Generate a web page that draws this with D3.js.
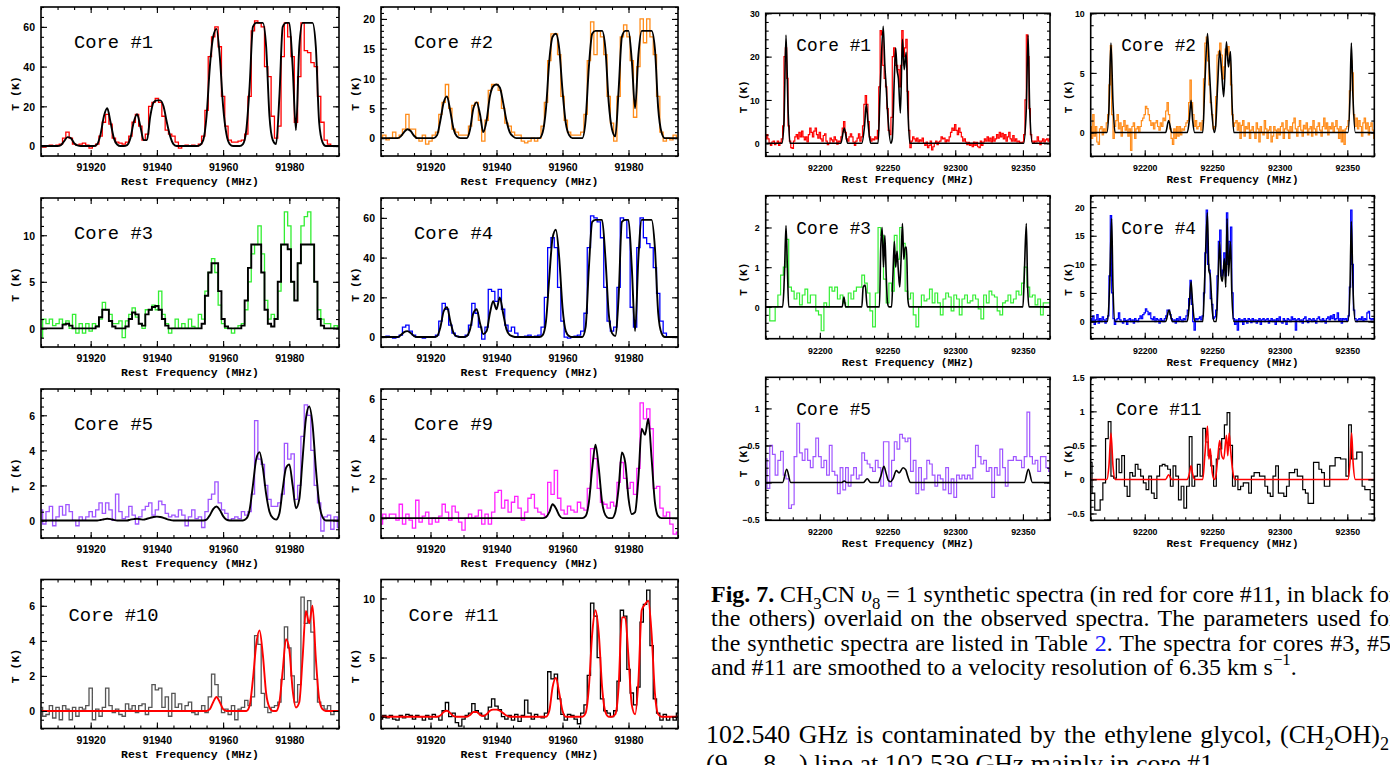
<!DOCTYPE html>
<html><head><meta charset="utf-8">
<script src="https://cdn.jsdelivr.net/npm/d3@7"></script>
<style>body{margin:0;background:#fff}svg{display:block}text{white-space:pre}</style>
</head><body>
<svg id="fig" width="1390" height="765"></svg>
<script>
// ---------------- DATA ----------------
// Left block: 91905..91995 MHz, 1 MHz channels
const freqL = d3.range(91905, 91996, 1);
// Right block: 92160..92370 MHz (1 MHz and 2 MHz channels)
const freqR1 = d3.range(92160, 92371, 1);
const freqR2 = d3.range(92160, 92371, 2);

const leftXTicks = [91920, 91940, 91960, 91980];
const rightXTicks = [92200, 92250, 92300, 92350];
const coreLabels = ["Core #1","Core #2","Core #3","Core #4","Core #5","Core #9","Core #10","Core #11"];
const coreLabelsR = ["Core #1","Core #2","Core #3","Core #4","Core #5","Core #11"];

const obs1L = [0,-0.5,0,0.5,0,0.5,1,4,7,4, 1,0.5,1,1.5,0.5,-1,0,1,5,12, 16,11,4,2,1.5,1,2,5,12,16, 10,3,6,20,22,24,22,15,8,6, 5,2,-1,0,0.5,0,0.5,0,1,5, 18,45,55,60,50,25,10,3,2,2, 2.5,3,6,25,58,63,62,60,40,35, 15,4,10,45,62,55,45,12,35,62, 48,47,42,40,25,12,3,1,0,0, 0];
const mod1L = [0,0,0,0,0,0,0.5,2.5,4.5,4, 1.5,0.3,0,0,0,0,0,1,6,15, 19,12,4,0.8,0,0,0.5,4,12,16, 10,3,3,15,22,23,23,20,12,5, 1,0,0,0,0,0,0,0,0.5,3, 15,40,55,59,45,20,6,1,0,0, 0,1,8,30,60,62,62,62,50,15, 3,1,25,60,62,62,40,8,50,62, 62,62,62,50,12,2,0,0,0,0, 0];
const obs2L = [0,0.5,-0.3,0,1,0,0.5,1.5,4,1.5, 1.5,0,-0.5,0.5,-1,-0.5,0.5,1,4,6, 9,5,1.5,1,0.5,0.5,0.5,2,5.5,6, 3,-0.5,3,8,9,9,8,5,2.5,2, 1,0.5,0.5,-0.5,-0.8,-0.5,0,-0.5,0,2, 6,13,17.5,17.5,14,7,3,1,0.5,0.5, 0.5,1,4,13,19.5,14,18,17,14,7, 2.5,-0.5,7,17,19,17,13,3.5,12,20, 16,20,17,14,7,1,-0.5,0,-0.3,0.5, 0];
const mod2L = [0,0,0,0,0,0,0.3,1,1.5,1.2, 0.4,0,0,0,0,0,0,0.5,3,6, 7,4.5,1.5,0.3,0,0,0,1.5,5,6, 4,1,3,7,8.7,9,8.5,6,3,1, 0.3,0,0,0,0,0,0,0,0,1, 5,13,17,17.5,15,8,2.5,0.5,0,0, 0,0,3,12,17.5,18,18,18,15,6, 1.5,0.3,8,17,18,18,13,5,14,18, 18,18,18,15,5,1,0,0,0,0, 0];
const obs3L = [-1,1,0.5,1,0.3,0.5,1,0.5,0.8,0, 1.5,-0.5,0.5,-0.5,0.5,-0.3,0.5,0.3,1,2.8, 2,1.5,0.5,0.5,0.8,-1,0.8,1.5,2.2,1.2, 0.5,0,2,2,2.5,2,4,1.5,0.5,-0.5, 0,1,0,0.5,0,1,0.2,0,1.5,1, 4,6,7.5,6,2.5,0.5,0,0,-0.5,0, 0.3,0.5,2,5,8,9,11,8,3,1, 1.5,1,4,9,12.5,11,5,3,7,11, 12,12.5,9,5,2,1,0.5,0.5,0,0.3, 0];
const mod3L = [0,0,0,0,0,0,0,0.4,0.5,0.3, 0,0,0,0,0,0,0,0.2,1.2,2, 2,0.8,0.2,0,0,0,0.2,1,1.7,1.5, 0.5,0.3,1.5,2,2.3,2.4,2,1,0.3,0, 0,0,0,0,0,0,0,0,0,0.5, 3.5,6,7,7,4,1,0.2,0,0,0, 0,0.3,3,6.5,9,9,9,6,2,0.5, 0.2,1,5,9,9,8.5,5,3,7,9, 9,9,9,5,1,0.3,0,0,0,0, 0];
const obs4L = [0,0,0.5,0,-0.5,0,1,5,6,3, 1,0,0,-0.5,0,0,0,1,8,17, 14,6,2,0.5,0,0,1,6,17,12, 5,-1,5,24,23,18,24,14,6,3, 5,2,0,0,0.5,1,0,0.5,1,5, 20,45,50,45,25,8,0,-0.5,0,0.5, 1,3,12,45,61,60,58,50,25,8, 3,5,25,60,59,50,15,5,45,60, 50,47,45,35,22,8,2,0,0,0, 0];
const mod4L = [0,0,0,0,0,0,1,2.5,3,2, 0.5,0,0,0,0,0,0,0.5,5,13, 15,8,2,0.3,0,0,0.5,4,12,14, 7,1.5,3,12,18,14,20,12,4,1, 0.3,0,0,0,0,0,0,0,0,1, 8,30,50,54,40,15,3,0.5,0,0, 0,0,5,35,58,59,59,59,40,12, 2,0.5,20,58,59,59,35,3,40,59, 59,59,59,45,12,2,0,0,0,0, 0];
const obs5L = [0.6,-0.2,0.5,0.8,-0.3,0.2,0.8,0.3,0.9,0.5, 0,-0.3,0.2,0,0.2,0.5,0.2,0.6,1,0.4, 1,0.6,0,1.5,0.5,0.1,0.2,0.8,0.3,-0.2, 0.2,0.6,0.8,1,0.3,0.6,1.1,0.9,0.4,0.2, 0.3,0.2,0.6,0.3,-0.3,0.2,0.6,0.1,0.2,-0.4, 0.5,1.2,1.5,2.2,1,0.6,0.4,0,0.1,0.2, 0.1,0.5,0.3,0.5,1.5,5.7,3.5,3.2,2,1.2, 0.8,0.8,1,1.5,4.4,3.5,3.8,1.2,2,4.8, 6.6,6,4,2,1,-0.6,0.2,0.3,-0.5,0.2, -0.4];
const mod5L = [0,0,0,0,0,0,0,0,0,0, 0,0,0,0,0,0,0,0,0.03,0.07, 0.1,0.08,0.03,0,0,0,0,0.05,0.08,0.1, 0.07,0.05,0.1,0.15,0.2,0.22,0.2,0.15,0.08,0.03, 0,0,0,0,0,0,0,0,0,0, 0.05,0.3,0.65,0.8,0.6,0.25,0.05,0,0,0, 0,0,0.1,0.6,2,3.5,3.9,3,1.5,0.5, 0.15,0.05,0.4,1.8,3,3.2,2,0.7,1.2,3.5, 5.8,6.5,5.5,3,1,0.2,0,0,0,0, 0];
const obs9L = [-0.3,0.2,0,0.2,0.2,-0.1,0.7,-0.3,0.2,-0.1, -0.5,0.9,-0.2,0.1,0.3,-0.3,0,-0.2,0.1,0.7, 0.3,-0.1,0.6,0.3,-0.2,-0.6,0,0.2,0,0.1, 0.4,-0.3,0.2,-0.3,0.3,1.3,1.4,0.5,0.9,0.3, 0.8,1.1,0.5,-0.1,0.3,1,1.2,0.5,0.3,0.2, 0.1,1.8,1.2,2.4,1,0.4,0.2,0.6,0.4,0.3, 0.8,0.5,0.4,1.5,3.5,3,1.5,0.8,0.7,0.5, 0.8,0.6,1.8,2.8,2,1.5,1.8,1.2,2.5,5.8, 5,5.5,4.5,1.5,1.6,0.5,0.1,0.3,-0.3,-0.8, -0.7];
const mod9L = [0,0,0,0,0,0,0,0,0,0, 0,0,0,0,0,0,0,0,0,0, 0,0,0,0,0,0,0,0,0,0, 0,0,0,0,0,0,0,0,0,0, 0,0,0,0,0,0,0,0,0,0, 0.05,0.3,0.7,0.5,0.15,0,0,0,0,0, 0,0,0.1,0.8,2.5,3.7,2.5,0.8,0.15,0, 0,0.3,1.5,3.3,2.8,1,0.2,0.3,2,4.5, 4.2,5,3,0.8,0.1,0,0,0,0,0, 0];
const obs10L = [0.2,-0.3,-0.2,0.3,-0.4,0.2,-0.5,0.3,0.1,-0.5, 0.2,-0.3,0.2,0.1,0.3,1.3,-0.5,0.1,-0.3,0.2, 1.3,0.3,-0.1,0.1,-0.2,-0.3,0.4,0.1,0.3,-0.1, 0.3,0.4,-0.2,0.2,1.5,1.2,1.3,0.2,0.8,-0.3, 1,0.2,0.4,0,0.3,0.5,-0.1,-0.2,0,0.3, -0.1,0.8,2.1,1.5,0.8,-0.1,0.1,-0.2,0.3,-0.5, 0.1,0.2,0.6,0.3,0.8,4.3,3.8,1,0.2,-0.1, 0.2,0.3,0.5,1.8,4.8,3.6,2,0.5,1.5,6.5, 5,6.3,4.5,1.8,0.5,0.3,0.1,0.3,-0.2,0, 0];
const mod10L = [0,0,0,0,0,0,0,0,0,0, 0,0,0,0,0,0,0,0,0,0, 0,0,0,0,0,0,0,0,0,0, 0,0,0,0,0,0,0,0,0,0, 0,0,0,0,0,0,0,0,0,0, 0,0.1,0.5,0.8,0.5,0.1,0,0,0,0, 0,0,0,0.3,1.8,3.8,4.6,3.2,1,0.2, 0,0,0.5,2.3,4.1,3.5,1.2,0.2,0.5,3, 5.7,5,6,3,0.7,0.1,0,0,0,0, 0];
const obs11L = [-0.2,0.1,-0.1,0.1,-0.2,-0.3,0.1,-0.1,0.2,0.1, -0.2,0.1,0,-0.3,0.1,-0.2,0.2,0,-0.3,0.5, 1.2,0,0.3,-0.5,-0.8,-0.2,0.1,0.3,1.1,0.5, 0.3,0.1,-0.2,0.8,1.5,0.9,0.6,0,-0.2,0.1, -0.3,0.2,-0.4,0.1,1.4,0.3,-0.2,0.2,0,-0.1, 0.3,3.8,3.2,3.6,1.5,0.2,-0.3,0.2,0.1,-0.2, -0.6,0.3,1,3.5,9.6,8.5,5,1.5,0.5,0.3, 0,0.5,3,9,8.5,4,2,1,2.5,8, 9.5,10.7,6,1.5,0.3,-0.3,0.2,-0.3,0,-0.3, 0.3];
const mod11L = [0,0,0,0,0,0,0,0,0,0, 0,0,0,0,0,0,0,0,0.1,0.4, 0.5,0.3,0.05,0,0,0,0,0.15,0.4,0.4, 0.15,0.05,0.2,0.5,0.6,0.6,0.5,0.3,0.1,0, 0,0,0,0,0,0,0,0,0,0, 0,0.5,2.5,3.3,2,0.5,0,0,0,0, 0,0,0.3,2.5,7,9,7,2.5,0.4,0, 0,0.2,2.5,8.4,8.4,5,1,0.2,3,9, 9.5,9.8,7,2,0.2,0,0,0,0,0, 0];

// Right block observed spectra
const obs1R = [1,2,1,0,-0.5,0.3,0.5,-0.3,0,0.5, -0.5,0.2,1,4,20,22,15,4,0.5,-1, -1.2,0.5,1.5,2,1,2.5,1.5,2.8,1.5,0.8, 1.5,0.3,2,3.5,2.5,1.5,2.8,3.5,2,1.2, 2.5,1,0.5,1.8,2.2,0.5,-0.3,0,1.2,0.8, 0.3,1.5,0.8,-0.2,0.5,0.3,1.5,3.5,5,2.5, 1,0.5,1.5,2.2,1.5,0.3,-0.5,0.5,1.2,2.2, 0.5,1.5,4,9,11,9,5,1.5,0.5,1, 0.8,1.5,1,3,13,26,25,18,15,13, 8,3,2,6,20,22,18,18,17,13, 18,26,20,22,24,12,3,-1,0.5,1.5, 1,0.5,1.2,0.3,0.8,0.5,1.2,0,-0.5,0.3, -1,-0.5,0.5,-1.5,-0.8,0,0.5,-0.3,0.3,0.5, 1.5,1,1.2,0.3,0.8,0.5,1.5,2.5,3.5,3, 4.3,3,2,3.5,2.5,1.5,0.5,1,0.3,-0.3, 0.2,-0.5,0,-0.8,0.3,-0.5,0.2,-0.8,-1,0.5, -0.5,0.3,1,0.5,1.5,0.5,1.2,0.3,1.5,0.5, 1,2,1.2,2.5,1.5,2.3,1,2,0.5,1.5, 2.5,1,0.5,1.8,0.5,1,0.3,0.5,0.2,0, 0.3,2,10,25,20,8,2,0.5,0,0.5, 0.3,1.5,0.5,-0.3,0.5,1,0.3,0.8,1,0.5, 1];
const obs2R = [0.5,-0.5,1.5,-0.3,0.5,-0.8,-1,0.3,0.5,-0.2, 0.3,0,0.8,1.5,4,7.3,1.5,-0.5,0.5,1, 1.5,0.3,0.8,-0.3,0.5,1,0.2,0.6,-0.3,0.3, -1.5,0.5,0.8,-0.5,0.3,0.5,0,0.5,1,1.2, 1.5,2.2,2,1.5,1,0.6,0.8,0.3,0.8,1, 0.5,0.2,0.8,0.5,1.2,1,1.8,2.5,1.5,0.3, -0.5,-1,0.3,-0.5,0.5,-0.3,0.5,-0.2,0.3,0.2, 0.5,0.8,1,2.5,4.4,2.5,1.5,0.5,1,0.3, 0.5,0.8,0.2,1,4.5,7.5,8,6,4,2.5, 1.5,0.3,0.5,3,6.5,6.8,7.5,6.5,4.5,5.5, 7,6.5,7.2,6,4,1.5,0.5,0.8,1,0.2, 0.8,-0.5,0.6,1,-0.3,0.5,0.3,0.8,-0.5,0.2, 0.5,0,-0.5,0.8,0.3,-0.8,0.5,0,-0.2,1, 0.3,-0.5,0.2,0.5,-0.8,-0.3,0.5,0.2,-0.5,0.3, -0.2,0.5,0.8,-0.5,0.3,1,0.2,-0.5,0.5,0, 0.8,1.2,0.3,-0.3,0.5,1,0.2,-0.3,0.6,0.3, 0.8,-0.2,0.3,0.5,-0.3,1,0.3,-0.2,0.5,0.8, 0.2,-0.3,0.5,1.2,0.3,0.8,-0.2,0.5,0.3,0.8, 0,0.5,1,0.3,-0.5,0.5,-0.8,0.2,-1,0.3, 0.5,1,3.5,6,5,1.5,0.5,1.2,0.3,1, 0.5,-0.3,0.8,1.2,0.3,0.8,-0.2,0.5,0.8,0.2, -0.5];
const obs3R = [0,0,-0.35,-0.35,0,0.3,0.8,1,1.7,0.5, 0.4,0.2,0.35,0.05,0.3,0.45,0.1,0.3,0.3,-0.1, -0.2,-0.6,0.1,0,0.5,0.4,0.5,0.2,0.3,0.1, 0,0.35,0.2,0.4,0.5,0.5,0.8,0.6,0.35,-0.1, -0.5,0.35,2,1.8,0.7,0.1,0.6,0.4,1.8,1.2, 2,1.6,0.4,0.2,0.35,-0.2,-0.5,0,0.3,0.15, 0.2,0.45,0.1,0.35,0.1,-0.2,0.2,0.35,0.25,-0.1, 0.3,0.2,-0.2,0.2,0.3,0.1,0.15,0.3,0.2,-0.05, -0.3,0.3,0.1,0.4,0.3,0.25,-0.1,-0.2,0.1,0.15, 0.3,0.1,0.2,0.4,0.3,0.6,1,0.5,0.25,0.3, 0.05,0.2,-0.2,0.1,0.1,0.1];
const obs4R = [0.5,0,1,-0.5,0.3,1.2,-0.3,0.5,0,0.8, 0.3,-0.3,0.5,1,8,18.5,5,0.5,-0.5,0.3, 0.5,1.5,0.3,0,-0.3,0.5,0.2,-0.5,0.3,0.5, 0,0.3,-0.3,0.5,0.2,0,0.5,1,0.5,1.2, 1.5,2.2,1.8,1.2,1.5,0.5,0.3,0.8,0,0.5, 0.3,-0.3,0.5,0.2,0,0.5,1,2,2,1.2, 0.5,0,0.3,-0.3,0.5,0.2,0.8,0.3,0,0.5, 0.3,1,2,4,7.2,3,0,-1.5,0.5,0.3, 0.5,0.8,0.3,1,5,12,19.5,10,9,4, 3,0.5,0.8,2,8,14,16,8,9,12, 8,19,10,14,16.5,5,0.5,-0.5,0.3,-1.5, 0.5,0,0.3,-0.5,0.5,0.2,-0.3,0.5,0.3,-0.2, 0.5,0,0.3,-0.3,0.2,0.5,-0.5,0.3,0.5,0, 0.3,0.5,-0.3,0.2,0.5,0,0.3,-0.5,0.5,0.2, 0.8,0,-0.3,0.5,0.2,-0.5,0.5,0.3,0,0.8, 0.3,0.5,-1.5,0.3,0.5,0,0.3,-0.3,0.5,0.8, 0.2,-0.2,0.5,0.3,0,0.5,0.2,-0.3,0.5,0.8, 0.3,0,0.5,0.2,-0.3,0.5,0.8,0.3,1,0.5, 1.2,0.3,0.5,1.5,0.2,0.5,-0.3,0.5,0.3,0.5, 0.2,1,6,19.5,10,2,0.5,0,0.3,0.5, 0.3,0.8,0.2,0.5,0.3,1.5,1.8,0.5,0.3,0.5, 0.3];
const obs5R = [0.32,-0.08,0.5,0.38,0.1,0.3,0.42,0.1,0.05,-0.35, -0.3,0.35,0.8,0.4,0.3,0.45,0.3,0.2,0.35,0.6, 0.35,0.2,0.3,0.1,0.5,0.15,0.1,-0.15,0.2,-0.1, 0.2,-0.05,0.1,0.2,0.05,0.1,0.4,0.3,0.25,0.2, 0.15,0.3,0.2,-0.05,0.55,0.55,-0.05,0.3,0.55,0.45, 0.65,0.6,0.55,0.6,0.15,0.3,-0.15,0.2,-0.1,0.05, 0.3,0.25,0.1,-0.05,0.1,0.05,-0.1,0.2,-0.15,0.05, -0.2,0.1,0.05,0.1,0.05,0.1,0.05,0.2,0.5,0.35, 0.25,0.3,0.15,0.2,-0.2,0.2,0.1,0.45,0.2,-0.05, 0.3,0.3,0.35,0.3,0.3,0.2,0.35,0.95,0.35,0.25, 0.3,0.15,0.35,0.35,0.2,0.15];
const obs11R = [0.25,-0.2,-0.45,-0.45,-0.3,-0.05,0.6,0.85,0.05,0.02, 0.3,0.1,0.35,-0.1,-0.25,0.1,0.05,0.22,0.15,0.05, -0.05,-0.15,0.05,-0.2,-0.28,0.05,0.2,0.22,0.2,0.15, -0.1,0.2,0.05,-0.3,-0.1,-0.42,-0.1,0.63,-0.1,0.05, 0.22,0.05,0.75,0.55,0.35,0.2,-0.1,0.3,0.45,0.6, 0.8,0.98,0.5,-0.1,0.05,-0.15,-0.1,-0.05,-0.05,-0.2, 0.05,0.1,0.1,0.05,0.05,-0.1,-0.2,-0.25,0.05,0.2, -0.2,-0.2,-0.25,-0.1,0.1,0.1,0.15,0.05,0.05,-0.15, -0.2,-0.35,-0.35,0.25,0.25,0.15,0.1,-0.1,-0.1,0.2, 0.2,0.32,0.32,0.3,0.3,0.05,0.8,0.3,0.3,0.4, 0.4,-0.1,-0.15,-0.15,-0.3,-0.3];

// Right block synthetic spectra: [frequency MHz, T K]
const mod1R = [[92160,0],[92172,0],[92173.5,5],[92175,25],[92176.5,8],[92178,0],[92215.5,0],[92218,3.5],[92220.5,0],[92231,0],[92233,4],[92234.3,9],[92235.5,5],[92237.5,0],[92243,0],[92244.5,12],[92246.8,27],[92248,18],[92249,13],[92250.5,5],[92252.5,0],[92253.5,1],[92255,15],[92256,22],[92257,17],[92258,15],[92259.5,7],[92261,24],[92262.3,17],[92263.8,21],[92265,8],[92266.5,0],[92350.5,0],[92352.5,8],[92353.8,25],[92355,8],[92357,0],[92370,0]];
const mod2R = [[92160,0],[92172,0],[92173.5,2],[92175,7.5],[92176.5,2.5],[92178,0],[92215.5,0],[92217.7,1],[92220,0],[92231.5,0],[92233,1],[92234.3,2.7],[92235.5,1],[92237,0],[92243,0],[92244.5,4],[92246.5,8.3],[92248,5],[92249.5,2],[92251.5,0],[92252.5,0.5],[92254,4],[92255.5,6.9],[92257,5],[92258.5,3],[92260.5,7.6],[92262,5.5],[92263.5,6.8],[92264.5,3],[92266,0],[92350.5,0],[92352,3],[92353,7.5],[92354.2,3],[92356,0],[92370,0]];
const mod3R = [[92160,0],[92172.5,0],[92173.5,0.5],[92174,1],[92175,2.05],[92176,1],[92177,0],[92216.5,0],[92217.8,0.25],[92219,0],[92231,0],[92232,0.5],[92233.5,0.55],[92235,0],[92244,0],[92245,1.5],[92246,2],[92247,1],[92248,1.8],[92249,0.8],[92250,0.1],[92251,0],[92253,0],[92254,0.8],[92255,1.65],[92256,1],[92257,1.4],[92258,0.9],[92259,0.5],[92260,1.2],[92261,2.1],[92262,1.2],[92263,1.5],[92264,1.5],[92265,0.2],[92266,0],[92350,0],[92351,0.8],[92352.5,2.1],[92353.5,0.5],[92354.5,0],[92370,0]];
const mod4R = [[92160,0],[92172.5,0],[92174,6],[92175.5,18],[92176.5,6],[92178,0],[92215.5,0],[92218,2],[92220.5,0],[92231.5,0],[92233,3],[92234.3,7],[92235.5,3],[92237,0],[92243,0],[92244.5,8],[92246.4,19],[92247.5,9],[92248.5,8],[92250,2],[92251.5,0],[92253,0],[92254,5],[92255.5,14],[92256.5,8],[92257.5,7],[92259,11],[92260,6],[92261,18],[92262,8],[92263.5,14],[92264.5,5],[92266,0],[92350.5,0],[92352,6],[92353,17.5],[92354.2,6],[92356,0],[92370,0]];
const mod5R = [[92160,0],[92172.5,0],[92175.5,0.18],[92178.5,0],[92216,0],[92218,0.02],[92220,0],[92232,0],[92235,0.05],[92237.5,0],[92243,0],[92245,0.08],[92247.3,0.22],[92249,0.12],[92250.5,0.03],[92252,0.01],[92254,0.05],[92256.5,0.16],[92258.5,0.13],[92261.5,0.2],[92263.5,0.17],[92265,0.08],[92267,0],[92351,0],[92354,0.18],[92357,0],[92370,0]];
const mod11R = [[92160,0],[92172,0],[92173.5,0.2],[92175,0.68],[92176.5,0.2],[92178,0],[92215.5,0],[92217.7,0.07],[92220,0],[92231.5,0],[92233,0.08],[92234.3,0.2],[92235.5,0.08],[92237,0],[92243,0],[92244.5,0.35],[92246.5,0.78],[92247.5,0.3],[92248.5,0.45],[92250,0.1],[92251.5,0],[92252.5,0.03],[92254,0.3],[92255.5,0.57],[92257,0.35],[92258.5,0.3],[92260.5,0.65],[92261.5,0.35],[92262.5,0.68],[92263.5,0.45],[92265,0.15],[92266.5,0],[92350.5,0],[92352,0.25],[92353.2,0.68],[92354.3,0.25],[92356,0],[92370,0]];

// y-axis ranges and tick values
const yDomL = [[-5,70],[-3,22],[-2,14],[-5,70],[-1,7.5],[-1,6.5],[-1,7.5],[-1,11.6]];
const yMajL = [[0,20,40,60],[0,5,10,15,20],[0,5,10],[0,20,40,60],[0,2,4,6],[0,2,4,6],[0,2,4,6],[0,5,10]];
const yMinL = [5,1,1,5,0.5,0.5,0.5,1];
const yDomR = [[-3,30],[-2,10],[-0.8,2.8],[-3,22],[-0.51,1.42],[-0.6,1.5]];
const yMajR = [[0,10,20,30],[0,5,10],[0,1,2],[0,5,10,15,20],[-0.5,0,0.5,1],[-0.5,0,0.5,1,1.5]];
const yMinR = [2,1,0.2,1,0.1,0.1];

// ---------------- STYLE / LAYOUT ----------------
const C = {red:"#ff0000", orange:"#ff8c1a", green:"#33ee33", blue:"#0000ff", purple:"#9f55ff", magenta:"#ff22ff", grey:"#555555", black:"#000000"};
const leftPanels = [
  {obs:obs1L, mod:mod1L, cO:C.red, cM:C.black},
  {obs:obs2L, mod:mod2L, cO:C.orange, cM:C.black},
  {obs:obs3L, mod:mod3L, cO:C.green, cM:C.black, modStep:true},
  {obs:obs4L, mod:mod4L, cO:C.blue, cM:C.black},
  {obs:obs5L, mod:mod5L, cO:C.purple, cM:C.black},
  {obs:obs9L, mod:mod9L, cO:C.magenta, cM:C.black},
  {obs:obs10L, mod:mod10L, cO:C.grey, cM:C.red},
  {obs:obs11L, mod:mod11L, cO:C.black, cM:C.red}
];
const rightPanels = [
  {obs:obs1R, freq:freqR1, mod:mod1R, cO:C.red, cM:C.black},
  {obs:obs2R, freq:freqR1, mod:mod2R, cO:C.orange, cM:C.black},
  {obs:obs3R, freq:freqR2, mod:mod3R, cO:C.green, cM:C.black},
  {obs:obs4R, freq:freqR1, mod:mod4R, cO:C.blue, cM:C.black},
  {obs:obs5R, freq:freqR2, mod:mod5R, cO:C.purple, cM:C.black},
  {obs:obs11R, freq:freqR2, mod:mod11R, cO:C.black, cM:C.red}
];
const Lgeo = {cols:[[41,339],[381,678]], tops:[7,198,389,579.5], h:149};
const Rgeo = {cols:[[765.7,1050],[1090.7,1374.3]], tops:[13.3,195.7,377.3], h:143};

const SANS = "'Liberation Sans', Arial, sans-serif";
const MONO = "'Liberation Mono', 'DejaVu Sans Mono', monospace";
const SERIF = "'Liberation Serif', 'Times New Roman', serif";

const svg = d3.select("#fig");
svg.append("rect").attr("width",1390).attr("height",765).attr("fill","#fff");
const defs = svg.append("defs");
const fmt = d => (d < 0 ? "\u2212" : "") + Math.abs(d);
const rangeStep = (dom, step) => d3.range(Math.ceil(dom[0]/step - 1e-9), Math.floor(dom[1]/step + 1e-9) + 1).map(k => +(k*step).toFixed(4));

let clipN = 0;
function panel(spec, geo, st) {
  const x0 = geo.x0, x1 = geo.x1, y0 = geo.y0, y1 = geo.y0 + geo.h;
  const x = d3.scaleLinear().domain(st.xDom).range([x0, x1]);
  const y = d3.scaleLinear().domain(spec.yDom).range([y1, y0]);
  const id = "clp" + (clipN++);
  defs.append("clipPath").attr("id", id).append("rect").attr("x", x0).attr("y", y0).attr("width", x1-x0).attr("height", y1-y0);
  const g = svg.append("g");
  const plot = g.append("g").attr("clip-path", `url(#${id})`);
  const stepLine = d3.line().x(d => x(d[0])).y(d => y(d[1])).curve(d3.curveStep);
  const smooth = d3.line().x(d => x(d[0])).y(d => y(d[1])).curve(d3.curveMonotoneX);
  plot.append("path").datum(spec.freq.map((f,i) => [f, spec.obs[i]]))
    .attr("d", stepLine).attr("fill","none").attr("stroke", spec.cO).attr("stroke-width", st.obsW).attr("stroke-linejoin","miter");
  const modData = spec.modPairs ? spec.modPairs : spec.freq.map((f,i) => [f, spec.mod[i]]);
  plot.append("path").datum(modData)
    .attr("d", spec.modStep ? stepLine : smooth).attr("fill","none").attr("stroke", spec.cM).attr("stroke-width", st.modW);

  function ax(gen, tx, ty, vals, len, withLabels) {
    const a = g.append("g").attr("transform", `translate(${tx},${ty})`)
      .call(gen.tickValues(vals).tickSizeInner(-len).tickSizeOuter(0).tickFormat(withLabels ? fmt : () => ""));
    a.select(".domain").remove();
    a.selectAll(".tick line").attr("stroke","#000").attr("stroke-width",1.1);
    a.attr("font-family", SANS).attr("font-size", st.tickFont).attr("font-weight","bold");
    a.selectAll("text").attr("fill","#000");
    return a;
  }
  const xMin = rangeStep(st.xDom, st.xMinStep), yMin = rangeStep(spec.yDom, spec.yMinStep);
  ax(d3.axisBottom(x), 0, y1, xMin, 3, false);
  ax(d3.axisTop(x), 0, y0, xMin, 3, false);
  ax(d3.axisLeft(y), x0, 0, yMin, 3, false);
  ax(d3.axisRight(y), x1, 0, yMin, 3, false);
  const b = ax(d3.axisBottom(x), 0, y1, st.xMaj, 6, true);
  b.selectAll("text").attr("y", 15).attr("dy", null);
  ax(d3.axisTop(x), 0, y0, st.xMaj, 6, false);
  const l = ax(d3.axisLeft(y), x0, 0, spec.yMaj, 6, true);
  l.selectAll("text").attr("x", -6).attr("dy", "0.36em");
  ax(d3.axisRight(y), x1, 0, spec.yMaj, 6, false);
  g.append("rect").attr("x", x0).attr("y", y0).attr("width", x1-x0).attr("height", y1-y0)
    .attr("fill","none").attr("stroke","#000").attr("stroke-width",1.6);
  g.append("text").attr("x", (x0+x1)/2).attr("y", y1 + st.titleDy).attr("text-anchor","middle")
    .attr("font-family", MONO).attr("font-weight","bold").attr("font-size", st.titleFont).text("Rest Frequency (MHz)");
  g.append("text").attr("transform", `translate(${x0 - st.yTitleDx},${(y0+y1)/2 + 12}) rotate(-90)`)
    .attr("text-anchor","middle").attr("dy","0.35em")
    .attr("font-family", MONO).attr("font-weight","bold").attr("font-size", st.titleFont).text("T (K)");
  g.append("text").attr("x", x0 + st.labDx).attr("y", y0 + st.labDy).attr("text-anchor","middle")
    .attr("font-family", MONO).attr("font-size", st.labFont).text(spec.label);
}

const stL = {xDom:[91905,91995], xMaj:leftXTicks, xMinStep:5, obsW:1.3, modW:1.9, tickFont:10.5, titleFont:11.5, titleDy:29, yTitleDx:26.5, labDx:72.5, labDy:41, labFont:18.8};
const stR = {xDom:[92160,92370], xMaj:rightXTicks, xMinStep:10, obsW:1.2, modW:1.6, tickFont:8.8, titleFont:11, titleDy:27, yTitleDx:23, labDx:68, labDy:38, labFont:17.8};

leftPanels.forEach((p, i) => {
  const col = i % 2, row = Math.floor(i / 2);
  panel({freq:freqL, obs:p.obs, mod:p.mod, modStep:p.modStep, cO:p.cO, cM:p.cM, yDom:yDomL[i], yMaj:yMajL[i], yMinStep:yMinL[i], label:coreLabels[i]},
        {x0:Lgeo.cols[col][0], x1:Lgeo.cols[col][1], y0:Lgeo.tops[row], h:Lgeo.h}, stL);
});
rightPanels.forEach((p, i) => {
  const col = i % 2, row = Math.floor(i / 2);
  panel({freq:p.freq, obs:p.obs, modPairs:p.mod, cO:p.cO, cM:p.cM, yDom:yDomR[i], yMaj:yMajR[i], yMinStep:yMinR[i], label:coreLabelsR[i]},
        {x0:Rgeo.cols[col][0], x1:Rgeo.cols[col][1], y0:Rgeo.tops[row], h:Rgeo.h}, stR);
});

// ---------------- CAPTION & BODY TEXT ----------------
const capLines = [
  [{t:"Fig. 7.",b:1},{t:" CH"},{t:"3",sub:1},{t:"CN "},{t:"\u03c5",i:1},{t:"8",sub:1},{t:" = 1 synthetic spectra (in red for core #11, in black for"}],
  [{t:"the others) overlaid on the observed spectra. The parameters used for"}],
  [{t:"the synthetic spectra are listed in Table "},{t:"2",c:"#1a1aff"},{t:". The spectra for cores #3, #5,"}],
  [{t:"and #11 are smoothed to a velocity resolution of 6.35 km s"},{t:"\u22121",sup:1},{t:"."}]
];
const bodyLines = [
  [{t:"102.540 GHz is contaminated by the ethylene glycol, (CH"},{t:"2",sub:1},{t:"OH)"},{t:"2",sub:1}],
  [{t:"(9"},{t:"2,7",sub:1},{t:"\u20138"},{t:"2,6",sub:1},{t:") line at 102.539 GHz mainly in core #1."}]
];
const txt = svg.append("g").attr("font-family", SERIF).attr("fill","#000");
function rich(x, y, parts, size) {
  const t = txt.append("text").attr("x", x).attr("y", y).attr("font-size", size);
  let shift = 0;
  parts.forEach(p => {
    const s = t.append("tspan").text(p.t);
    const target = p.sub ? size*0.28 : p.sup ? -size*0.42 : 0;
    if (target !== shift) { s.attr("dy", target - shift); shift = target; }
    if (p.sub || p.sup) s.attr("font-size", size*0.7);
    if (p.b) s.attr("font-weight","bold");
    if (p.i) s.attr("font-style","italic");
    if (p.c) s.attr("fill", p.c);
  });
  return t;
}
function justify(t, parts, width) {
  const w = t.node().getComputedTextLength();
  const n = parts.map(p => p.t).join("").split(" ").length - 1;
  if (n > 0) t.attr("word-spacing", (width - w) / n);
}
// caption size calibrated on the (unjustified) last line
const probe = rich(711, -100, capLines[3], 20);
const capSize = 20 * 586 / probe.node().getComputedTextLength();
probe.remove();
const capY = [602, 626.3, 650.6, 675];
capLines.forEach((parts, i) => {
  const t = rich(711, capY[i], parts, capSize);
  if (i < 3) justify(t, parts, 686);
});
// body text size: natural width a little under the justified width
const probe2 = rich(706, -100, bodyLines[0], 24);
const bodySize = 24 * 668 / probe2.node().getComputedTextLength();
probe2.remove();
const b1 = rich(706, 743, bodyLines[0], bodySize);
justify(b1, bodyLines[0], 683);
rich(706, 772, bodyLines[1], bodySize);
</script>
</body></html>
